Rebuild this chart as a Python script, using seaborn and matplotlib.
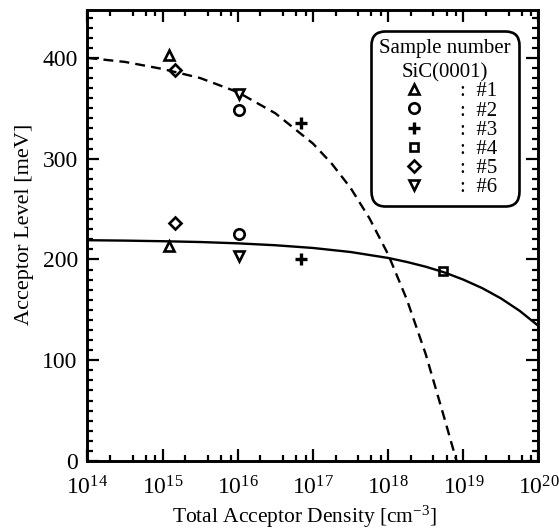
import numpy as np
import pandas as pd
import matplotlib
matplotlib.use("Agg")
import matplotlib.pyplot as plt
from matplotlib.ticker import LogLocator, MultipleLocator, FixedLocator, FuncFormatter, NullFormatter
from matplotlib.lines import Line2D
import seaborn as sns

# ---------------- data ----------------
sample_labels = ["#1", "#2", "#3", "#4", "#5", "#6"]
sample_markers = ["^", "o", "+", "s", "D", "v"]

s1_density = [1.22e15, 1.22e15]
s1_level = [403, 213]
s2_density = [1.05e16, 1.05e16]
s2_level = [348, 225]
s3_density = [7.0e16, 7.0e16]
s3_level = [335, 200]
s4_density = [5.3e18]
s4_level = [189]
s5_density = [1.45e15, 1.45e15]
s5_level = [388, 236]
s6_density = [1.03e16, 1.03e16]
s6_level = [364, 203]

# solid fitted curve
solid_log_density = [14.0, 14.5, 15.0, 15.5, 16.0, 16.5, 17.0, 17.5, 18.0, 18.25,
                     18.5, 18.75, 19.0, 19.25, 19.5, 19.75, 20.0]
solid_level = [219.1, 218.7, 218.1, 217.3, 216.0, 214.1, 211.4, 207.4, 201.5, 197.5,
               192.8, 187.1, 180.0, 171.6, 161.4, 149.0, 134.0]

# dashed fitted curve
dashed_log_density = [14.0, 14.5, 15.0, 15.5, 16.0, 16.5, 17.0, 17.25, 17.5, 17.75,
                      18.0, 18.25, 18.5, 18.75, 18.91]
dashed_level = [400, 396, 389, 380, 366, 345, 315, 295, 271, 241,
                205, 160, 106, 42, 0]

x_tick_exponents = [14, 15, 16, 17, 18, 19, 20]
y_ticks = [0, 100, 200, 300, 400]

# ---------------- style ----------------
sns.set_theme(style="ticks")
plt.rcParams["font.family"] = ["Liberation Serif", "DejaVu Serif"]
plt.rcParams["mathtext.fontset"] = "custom"
plt.rcParams["mathtext.rm"] = "Liberation Serif"
plt.rcParams["mathtext.it"] = "Liberation Serif:italic"
plt.rcParams["mathtext.bf"] = "Liberation Serif:bold"
plt.rcParams["text.color"] = "black"
plt.rcParams["axes.labelcolor"] = "black"
plt.rcParams["xtick.color"] = "black"
plt.rcParams["ytick.color"] = "black"

fig = plt.figure(figsize=(5.59, 5.29), dpi=100)
ax = fig.add_axes([0.1565, 0.1285, 0.8068, 0.8535])

# curves
solid_df = pd.DataFrame({"N": 10 ** np.array(solid_log_density), "E": solid_level})
dashed_df = pd.DataFrame({"N": 10 ** np.array(dashed_log_density), "E": dashed_level})
sns.lineplot(data=solid_df, x="N", y="E", ax=ax, color="black", lw=1.7,
             estimator=None, sort=False)
sns.lineplot(data=dashed_df, x="N", y="E", ax=ax, color="black", lw=1.7,
             dashes=False, estimator=None, sort=False)
ax.lines[-1].set_dashes((4.2, 2.6))

# points
densities = [s1_density, s2_density, s3_density, s4_density, s5_density, s6_density]
levels = [s1_level, s2_level, s3_level, s4_level, s5_level, s6_level]
msizes = {"^": 7.5, "o": 7.5, "+": 9, "s": 5.5, "D": 5.8, "v": 7.5}
handles = []
for lab, mk, xs, ys in zip(sample_labels, sample_markers, densities, levels):
    df = pd.DataFrame({"N": xs, "E": ys})
    kw = dict(marker=mk, linestyle="", color="black", markersize=msizes[mk],
              markeredgewidth=1.9 if mk != "+" else 2.4,
              markerfacecolor="none", markeredgecolor="black")
    sns.lineplot(data=df, x="N", y="E", ax=ax, estimator=None, sort=False, **kw)
    handles.append(Line2D([], [], **kw))

# axes
ax.set_xscale("log")
ax.set_xlim(1e14, 1e20)
ax.set_ylim(0, 448)
ax.xaxis.set_major_locator(FixedLocator([10.0 ** e for e in x_tick_exponents]))
ax.xaxis.set_major_formatter(FuncFormatter(lambda v, p: r"$10^{%d}$" % round(np.log10(v))))
ax.xaxis.set_minor_locator(LogLocator(base=10, subs=[2, 4, 6, 8], numticks=20))
ax.xaxis.set_minor_formatter(NullFormatter())
ax.yaxis.set_major_locator(FixedLocator(y_ticks))
ax.yaxis.set_minor_locator(MultipleLocator(10))

ax.tick_params(which="both", direction="in", top=True, right=True, colors="black",
               labelcolor="black", width=1.6)
ax.tick_params(which="major", length=8.5, labelsize=17)
ax.tick_params(which="minor", length=4.5)
ax.tick_params(axis="y", which="major", pad=7)
ax.tick_params(axis="x", which="major", pad=11)
for sp in ax.spines.values():
    sp.set_linewidth(2.1)
    sp.set_color("black")

ax.set_xlabel(r"Total Acceptor Density [cm$^{\mathdefault{-3}}$]", fontsize=15.5,
              color="black")
ax.set_ylabel("Acceptor Level [meV]", fontsize=16, color="black")
ax.xaxis.set_label_coords(0.482, -0.095)
ax.yaxis.set_label_coords(-0.118, 0.525)

leg = ax.legend(handles, [":  " + s for s in sample_labels],
                title="Sample number\nSiC(0001)", fontsize=15, title_fontsize=15,
                loc="upper right", bbox_to_anchor=(0.957, 0.953), borderaxespad=0,
                frameon=True, fancybox=True, handlelength=2.0, handletextpad=1.2,
                labelspacing=-0.02, borderpad=0.4, edgecolor="black")
leg.get_frame().set_linewidth(1.9)
leg.get_frame().set_facecolor("white")
leg.get_frame().set_alpha(1)
leg.get_frame().set_boxstyle("round", pad=0, rounding_size=0.7)
leg.get_title().set_multialignment("center")
leg.get_title().set_linespacing(1.35)
leg.get_title().set_color("black")
for t in leg.get_texts():
    t.set_color("black")

fig.savefig("out.png", dpi=100)
